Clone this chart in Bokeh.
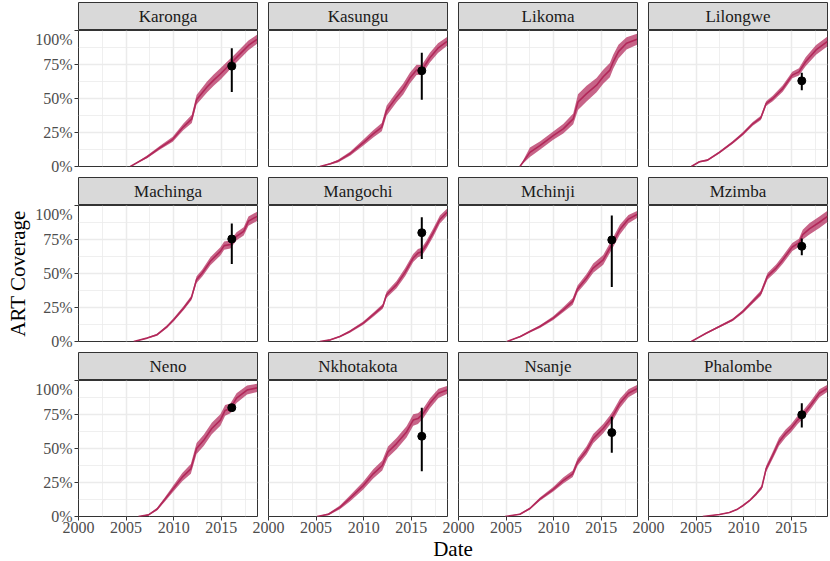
from bokeh.plotting import figure
from bokeh.layouts import row, column
from bokeh.models import Range1d, FixedTicker, LinearAxis, Grid, NumeralTickFormatter
from bokeh.core.properties import value
from bokeh.embed import file_html
from bokeh.resources import INLINE

FONT = "Liberation Serif"
LINE_C = "#B2285A"

districts = ["Karonga", "Kasungu", "Likoma", "Lilongwe",
             "Machinga", "Mangochi", "Mchinji", "Mzimba",
             "Neno", "Nkhotakota", "Nsanje", "Phalombe"]

x_ticks = [2000, 2005, 2010, 2015]
x_minor = [2002.5, 2007.5, 2012.5, 2017.5]
y_ticks = [0, 0.25, 0.5, 0.75, 1.0]
y_minor = [0.125, 0.375, 0.625, 0.875]

# modelled ART coverage: year, median, half-width of the band
karonga_x = [2005.45, 2007.2, 2008.6, 2009.9, 2011.0, 2011.9, 2012.4, 2013.5, 2014.2, 2014.9, 2015.6, 2016.3, 2017.0, 2017.85, 2018.75]
karonga_y = [0, 0.07, 0.14, 0.20, 0.29, 0.35, 0.49, 0.585, 0.635, 0.68, 0.73, 0.78, 0.83, 0.89, 0.935]
karonga_w = [0, 0.01, 0.014, 0.018, 0.024, 0.03, 0.035, 0.04, 0.042, 0.042, 0.04, 0.036, 0.036, 0.036, 0.033]

kasungu_x = [2005.4, 2006.5, 2007.3, 2008.6, 2010.0, 2011.0, 2011.9, 2012.4, 2013.45, 2014.15, 2014.85, 2015.55, 2016.1, 2016.95, 2017.8, 2018.75]
kasungu_y = [0, 0.02, 0.04, 0.096, 0.178, 0.24, 0.29, 0.41, 0.51, 0.57, 0.65, 0.71, 0.71, 0.80, 0.87, 0.92]
kasungu_w = [0, 0.006, 0.01, 0.015, 0.022, 0.026, 0.03, 0.036, 0.038, 0.04, 0.04, 0.038, 0.036, 0.036, 0.036, 0.033]

likoma_x = [2006.45, 2007.5, 2008.55, 2009.95, 2011.0, 2012.05, 2012.55, 2013.45, 2014.5, 2015.2, 2015.9, 2016.25, 2016.8, 2017.65, 2018.75]
likoma_y = [0, 0.104, 0.153, 0.227, 0.277, 0.35, 0.474, 0.536, 0.598, 0.66, 0.709, 0.77, 0.845, 0.906, 0.936]
likoma_w = [0, 0.035, 0.03, 0.03, 0.035, 0.04, 0.058, 0.058, 0.052, 0.052, 0.052, 0.052, 0.05, 0.045, 0.04]

lilongwe_x = [2004.5, 2005.35, 2006.2, 2007.45, 2008.85, 2009.9, 2010.95, 2011.8, 2012.35, 2013.05, 2014.1, 2015.1, 2015.8, 2016.5, 2017.6, 2018.8]
lilongwe_y = [0, 0.035, 0.047, 0.104, 0.178, 0.24, 0.314, 0.358, 0.462, 0.50, 0.573, 0.672, 0.696, 0.77, 0.857, 0.92]
lilongwe_w = [0, 0.005, 0.006, 0.008, 0.01, 0.012, 0.014, 0.016, 0.018, 0.021, 0.024, 0.024, 0.026, 0.033, 0.036, 0.036]

machinga_x = [2005.8, 2007.2, 2008.25, 2009.3, 2010.0, 2011.05, 2011.85, 2012.4, 2013.0, 2013.85, 2014.9, 2015.3, 2015.95, 2016.6, 2017.35, 2017.85, 2018.75]
machinga_y = [0, 0.025, 0.05, 0.11, 0.16, 0.246, 0.32, 0.455, 0.504, 0.59, 0.663, 0.705, 0.713, 0.774, 0.81, 0.885, 0.92]
machinga_w = [0, 0.005, 0.007, 0.01, 0.012, 0.015, 0.017, 0.024, 0.026, 0.03, 0.03, 0.03, 0.03, 0.03, 0.03, 0.034, 0.034]

mangochi_x = [2005.4, 2006.5, 2007.5, 2008.55, 2009.95, 2011.0, 2012.0, 2012.4, 2013.45, 2014.35, 2015.2, 2015.7, 2016.1, 2016.6, 2017.3, 2018.0, 2018.75]
mangochi_y = [0, 0.012, 0.037, 0.074, 0.135, 0.197, 0.258, 0.344, 0.418, 0.51, 0.614, 0.65, 0.66, 0.713, 0.80, 0.897, 0.95]
mangochi_w = [0, 0.004, 0.006, 0.009, 0.012, 0.015, 0.018, 0.022, 0.026, 0.03, 0.03, 0.03, 0.03, 0.03, 0.03, 0.03, 0.026]

mchinji_x = [2005.1, 2006.5, 2007.5, 2008.55, 2009.95, 2011.0, 2012.0, 2012.5, 2013.45, 2014.15, 2015.2, 2016.1, 2016.95, 2017.85, 2018.75]
mchinji_y = [0, 0.037, 0.074, 0.11, 0.172, 0.233, 0.295, 0.386, 0.467, 0.54, 0.60, 0.713, 0.823, 0.90, 0.934]
mchinji_w = [0, 0.005, 0.007, 0.01, 0.014, 0.018, 0.024, 0.026, 0.03, 0.034, 0.036, 0.036, 0.036, 0.03, 0.026]

mzimba_x = [2004.5, 2006.05, 2007.45, 2008.85, 2009.9, 2010.95, 2011.8, 2012.5, 2013.4, 2014.1, 2015.1, 2015.8, 2016.2, 2016.9, 2017.95, 2018.8]
mzimba_y = [0, 0.061, 0.11, 0.16, 0.22, 0.295, 0.356, 0.48, 0.54, 0.60, 0.695, 0.725, 0.786, 0.828, 0.877, 0.92]
mzimba_w = [0, 0.005, 0.007, 0.01, 0.012, 0.016, 0.019, 0.024, 0.026, 0.029, 0.03, 0.03, 0.036, 0.042, 0.042, 0.042]

neno_x = [2006.3, 2007.35, 2008.25, 2009.1, 2009.9, 2010.9, 2011.8, 2012.4, 2013.15, 2014.0, 2014.9, 2015.4, 2015.95, 2016.6, 2017.7, 2018.75]
neno_y = [0, 0.012, 0.054, 0.128, 0.20, 0.289, 0.35, 0.50, 0.56, 0.647, 0.709, 0.78, 0.795, 0.87, 0.93, 0.946]
neno_w = [0, 0.005, 0.01, 0.015, 0.022, 0.03, 0.036, 0.04, 0.042, 0.042, 0.042, 0.04, 0.036, 0.036, 0.033, 0.03]

nkhotakota_x = [2005.1, 2006.3, 2007.5, 2008.55, 2009.95, 2011.0, 2011.95, 2012.55, 2013.45, 2014.5, 2015.2, 2015.7, 2016.25, 2016.95, 2017.85, 2018.75]
nkhotakota_y = [0, 0.017, 0.067, 0.133, 0.227, 0.314, 0.375, 0.474, 0.536, 0.622, 0.709, 0.72, 0.758, 0.832, 0.906, 0.93]
nkhotakota_w = [0, 0.007, 0.014, 0.022, 0.029, 0.034, 0.036, 0.04, 0.042, 0.042, 0.042, 0.04, 0.036, 0.036, 0.034, 0.03]

nsanje_x = [2004.9, 2006.45, 2007.5, 2008.55, 2009.95, 2011.0, 2012.0, 2012.5, 2013.45, 2014.15, 2015.2, 2015.9, 2016.25, 2016.95, 2017.85, 2018.75]
nsanje_y = [0, 0.017, 0.059, 0.128, 0.20, 0.264, 0.314, 0.40, 0.486, 0.573, 0.647, 0.709, 0.746, 0.832, 0.906, 0.94]
nsanje_w = [0, 0.005, 0.007, 0.012, 0.017, 0.022, 0.024, 0.026, 0.03, 0.034, 0.034, 0.034, 0.034, 0.034, 0.03, 0.026]

phalombe_x = [2005.7, 2007.45, 2008.5, 2009.35, 2009.9, 2010.6, 2011.3, 2011.9, 2012.35, 2013.05, 2013.7, 2014.4, 2014.95, 2015.65, 2016.35, 2017.05, 2017.95, 2018.8]
phalombe_y = [0, 0.015, 0.03, 0.054, 0.079, 0.116, 0.165, 0.215, 0.35, 0.45, 0.548, 0.61, 0.647, 0.709, 0.758, 0.82, 0.906, 0.943]
phalombe_w = [0, 0.003, 0.004, 0.005, 0.006, 0.008, 0.011, 0.014, 0.022, 0.026, 0.03, 0.03, 0.03, 0.03, 0.03, 0.03, 0.03, 0.026]

# survey estimates (2016): district, estimate, lower, upper
survey_year = 2016.1
survey_district = ["Karonga", "Kasungu", "Lilongwe", "Machinga", "Mangochi", "Mchinji",
                   "Mzimba", "Neno", "Nkhotakota", "Nsanje", "Phalombe"]
survey_est = [0.738, 0.704, 0.63, 0.754, 0.80, 0.747, 0.70, 0.80, 0.59, 0.617, 0.748]
survey_lo = [0.548, 0.491, 0.56, 0.57, 0.607, 0.40, 0.634, 0.785, 0.333, 0.469, 0.654]
survey_hi = [0.87, 0.837, 0.69, 0.867, 0.914, 0.926, 0.757, 0.815, 0.80, 0.733, 0.832]

series = {
    "Karonga": (karonga_x, karonga_y, karonga_w),
    "Kasungu": (kasungu_x, kasungu_y, kasungu_w),
    "Likoma": (likoma_x, likoma_y, likoma_w),
    "Lilongwe": (lilongwe_x, lilongwe_y, lilongwe_w),
    "Machinga": (machinga_x, machinga_y, machinga_w),
    "Mangochi": (mangochi_x, mangochi_y, mangochi_w),
    "Mchinji": (mchinji_x, mchinji_y, mchinji_w),
    "Mzimba": (mzimba_x, mzimba_y, mzimba_w),
    "Neno": (neno_x, neno_y, neno_w),
    "Nkhotakota": (nkhotakota_x, nkhotakota_y, nkhotakota_w),
    "Nsanje": (nsanje_x, nsanje_y, nsanje_w),
    "Phalombe": (phalombe_x, phalombe_y, phalombe_w),
}

FW, FH, SH = 179, 136, 28


def make_cell(r, c, name):
    bottom = (r == 2)
    left = (c == 0)
    L = 78 if left else (17 if bottom else 1)
    strip = figure(frame_width=FW, frame_height=SH, x_range=Range1d(0, 1), y_range=Range1d(0, 1),
                   x_axis_type=None, y_axis_type=None, toolbar_location=None, output_backend="svg",
                   min_border_left=L, min_border_right=1, min_border_top=2 if r == 0 else 1,
                   min_border_bottom=0,
                   background_fill_color="#D9D9D9", border_fill_alpha=0,
                   outline_line_color="#333333", outline_line_width=1)
    strip.text(x=[0.5], y=[0.5], text=[name], text_align="center", text_baseline="middle",
               text_font=value(FONT), text_font_size="17px", text_color="#1A1A1A")

    p = figure(frame_width=FW, frame_height=FH, x_range=Range1d(2000, 2018.8), y_range=Range1d(0, 1),
               x_axis_type=None, y_axis_type=None, toolbar_location=None, output_backend="svg",
               min_border_left=L, min_border_right=1, min_border_top=0,
               min_border_bottom=23 if bottom else 10,
               background_fill_color="white", border_fill_alpha=0,
               outline_line_color="#333333", outline_line_width=1)
    xt = FixedTicker(ticks=x_ticks, minor_ticks=x_minor)
    yt = FixedTicker(ticks=y_ticks, minor_ticks=y_minor)
    for dim, tk in ((0, xt), (1, yt)):
        p.add_layout(Grid(dimension=dim, ticker=tk, grid_line_color="#EBEBEB", grid_line_width=1.5,
                          minor_grid_line_color="#EBEBEB", minor_grid_line_width=0.8))
    if bottom:
        ax = LinearAxis(ticker=FixedTicker(ticks=x_ticks, minor_ticks=[]))
        ax.axis_line_color = None
        ax.major_tick_line_color = "#333333"
        ax.major_tick_out = 4
        ax.major_tick_in = 0
        ax.minor_tick_line_color = None
        ax.major_label_standoff = 1
        ax.major_label_text_font = FONT
        ax.major_label_text_font_size = "16px"
        ax.major_label_text_color = "#4D4D4D"
        p.add_layout(ax, "below")
    if left:
        ay = LinearAxis(ticker=FixedTicker(ticks=y_ticks, minor_ticks=[]),
                        formatter=NumeralTickFormatter(format="0%"))
        ay.axis_line_color = None
        ay.major_tick_line_color = "#333333"
        ay.major_tick_out = 4
        ay.major_tick_in = 0
        ay.minor_tick_line_color = None
        ay.major_label_standoff = 2
        ay.major_label_text_font = FONT
        ay.major_label_text_font_size = "16px"
        ay.major_label_text_color = "#4D4D4D"
        if r == 1:
            ay.axis_label = "ART Coverage"
            ay.axis_label_text_font = FONT
            ay.axis_label_text_font_size = "21px"
            ay.axis_label_text_font_style = "normal"
            ay.axis_label_text_color = "black"
            ay.axis_label_standoff = 2
        p.add_layout(ay, "left")

    xs, ys, ws = series[name]
    lo = [max(0.0, y - w) for y, w in zip(ys, ws)]
    hi = [min(1.0, y + w) for y, w in zip(ys, ws)]
    p.varea(x=xs, y1=lo, y2=hi, fill_color=LINE_C, fill_alpha=0.72)
    p.line(xs, ys, line_color=LINE_C, line_width=1.6)

    if name in survey_district:
        i = survey_district.index(name)
        p.segment(x0=[survey_year], y0=[survey_lo[i]], x1=[survey_year], y1=[survey_hi[i]],
                  line_color="black", line_width=2)
        p.scatter([survey_year], [survey_est[i]], size=8, fill_color="black", line_color="black")

    kw = {}
    if bottom and not left:
        kw["margin"] = (0, 0, 0, -16)
    return column(strip, p, spacing=0, **kw)


rows = []
for r in range(3):
    cells = [make_cell(r, c, districts[r * 4 + c]) for c in range(4)]
    rows.append(row(*cells, spacing=9))

# shared x-axis title, drawn as the label of a tick-less axis spanning the panel columns
date_fig = figure(frame_width=749, frame_height=2, x_range=Range1d(0, 1), y_range=Range1d(0, 1),
                  x_axis_type=None, y_axis_type=None, toolbar_location=None, output_backend="svg",
                  min_border_left=78, min_border_right=1, min_border_top=0, min_border_bottom=0,
                  background_fill_alpha=0, border_fill_alpha=0, outline_line_color=None,
                  margin=(-10, 0, 0, 0))
dax = LinearAxis(ticker=FixedTicker(ticks=[], minor_ticks=[]))
dax.axis_line_color = None
dax.major_tick_line_color = None
dax.major_tick_out = 0
dax.minor_tick_line_color = None
dax.axis_label = "Date"
dax.axis_label_text_font = FONT
dax.axis_label_text_font_size = "21px"
dax.axis_label_text_font_style = "normal"
dax.axis_label_text_color = "black"
dax.axis_label_standoff = 5
date_fig.add_layout(dax, "below")

layout = column(*rows, date_fig, spacing=0)

open("out.html", "w").write(file_html(layout, INLINE))
